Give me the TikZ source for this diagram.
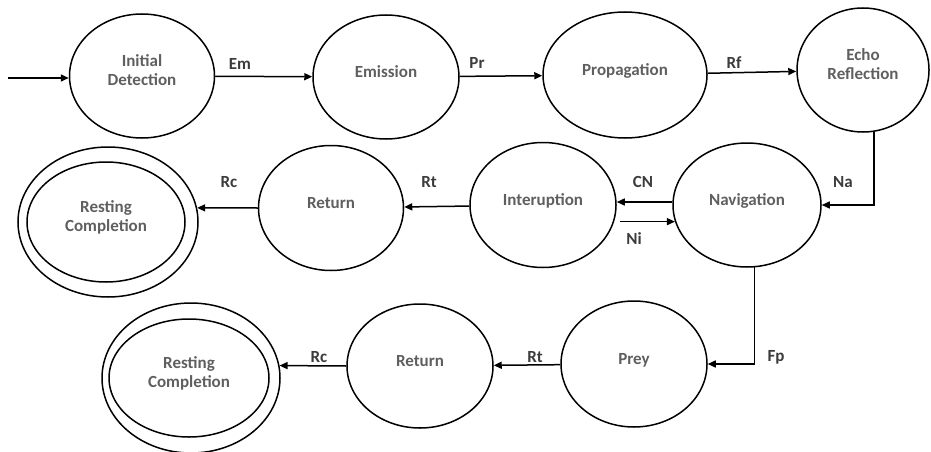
\documentclass[tikz,border=0pt]{standalone}
\usepackage{fontspec}
\setmainfont{Carlito}
\usetikzlibrary{shapes.geometric,arrows.meta,calc}
\definecolor{txtgray}{RGB}{95,95,95}
\definecolor{labgray}{RGB}{60,60,60}
\begin{document}
\begin{tikzpicture}[x=1pt,y=-1pt,
  st/.style={ellipse,draw,line width=1.5pt,inner sep=0pt,align=center,text depth=11pt,
    font=\fontsize{17}{19}\selectfont\bfseries,text=txtgray},
  ring/.style={ellipse,draw,line width=1.5pt,inner sep=0pt},
  lab/.style={font=\fontsize{17}{19}\selectfont\bfseries,text=labgray,inner sep=0pt},
  arr/.style={line width=1.5pt,-{Triangle[length=8pt,width=7pt]}}]
\useasboundingbox (0,0) rectangle (931,452);
% row 1
\node[st,minimum width=145pt,minimum height=124pt] (id) at (142,76) {Initial\\Detection};
\node[st,minimum width=146pt,minimum height=124pt] (em) at (386,77) {Emission};
\node[st,minimum width=164pt,minimum height=126pt] (prop) at (625,75) {Propagation};
\node[st,minimum width=132pt,minimum height=124pt] (echo) at (863,70) {Echo\\Reflection};
% row 2
\node[st,minimum width=148pt,minimum height=124pt] (nav) at (747,205) {Navigation};
\node[st,minimum width=146pt,minimum height=125pt] (int) at (543,205) {Interuption};
\node[st,minimum width=145pt,minimum height=125pt] (ret1) at (331,208) {Return};
\node[ring,minimum width=180pt,minimum height=150pt] (rc1o) at (108,222) {};
\node[st,minimum width=158pt,minimum height=120pt] (rc1) at (106,222) {Resting\\Completion};
% row 3
\node[st,minimum width=146pt,minimum height=126pt] (prey) at (634,364) {Prey};
\node[st,minimum width=146pt,minimum height=124pt] (ret2) at (420,366) {Return};
\node[ring,minimum width=178pt,minimum height=150pt] (rc2o) at (191,378) {};
\node[st,minimum width=160pt,minimum height=118pt] (rc2) at (189,378) {Resting\\Completion};
% connectors
\coordinate (start) at (8,78);
\draw[arr] (start) -- (start -| id.west);
\draw[arr] (id) -- (em);
\draw[arr] (em) -- (prop);
\draw[arr] (prop) -- (echo);
\draw[arr] (echo.-80) |- (nav.east);
\draw[arr] ([yshift=3pt]nav.west) -- ([yshift=3pt]int.east);
\draw[arr] ($(int.east |- nav.193)+(3,0)$) -- (nav.193);
\draw[arr] (int) -- (ret1);
\draw[arr] (ret1.west) -- (rc1o.9);
\draw[arr] (nav.-83) |- (prey.east);
\draw[arr] (prey) -- (ret2);
\draw[arr] (ret2.west) -- (rc2o.8);
% labels
\node[lab] (lem) at (240,64) {Em};
\node[lab] (lpr) at (477,63) {Pr};
\node[lab] (lrf) at (734,63) {Rf};
\node[lab] (lna) at (843,182) {Na};
\node[lab] (lcn) at (643,182) {CN};
\node[lab] (lni) at (634,239) {Ni};
\node[lab] (lrt1) at (429,182) {Rt};
\node[lab] (lrc1) at (229,182) {Rc};
\node[lab] (lfp) at (776,357) {Fp};
\node[lab] (lrt2) at (535,357) {Rt};
\node[lab] (lrc2) at (319,357) {Rc};
\end{tikzpicture}
\end{document}
